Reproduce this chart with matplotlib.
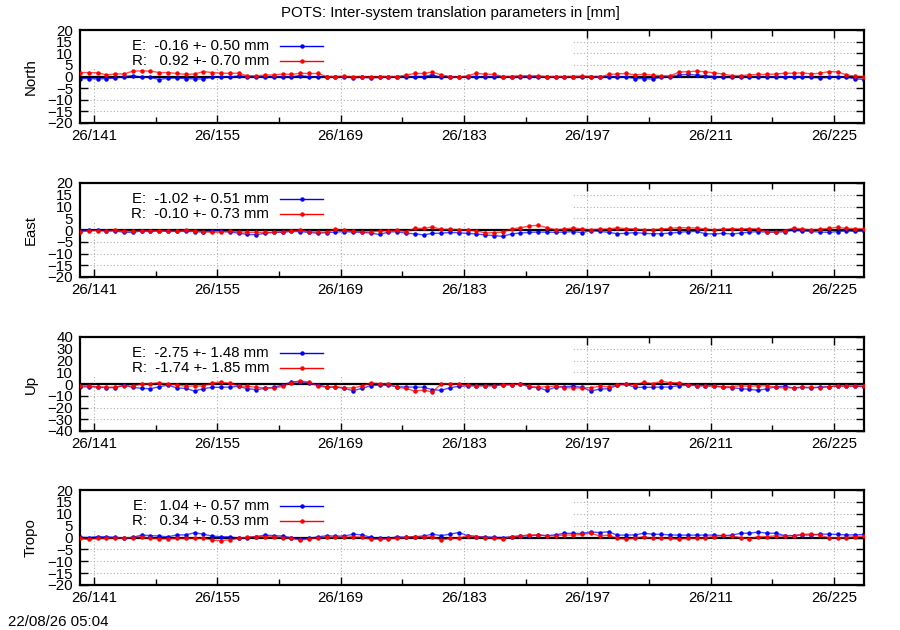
import matplotlib
matplotlib.use("Agg")
import matplotlib.pyplot as plt
import numpy as np
from matplotlib.patches import Rectangle

plt.rcParams['font.family'] = ['Liberation Sans', 'DejaVu Sans']
plt.rcParams['font.size'] = 10.8
FS = 10.8

# day of year of the first solution, one solution per day
first_day = 139.4
major_days = [141, 155, 169, 183, 197, 211, 225]
minor_days = [148, 162, 176, 190, 204, 218]
year = 26

north_e = [-0.9, -0.9, -1.0, -0.9, -0.7, 0.0, 0.4, -0.3, -0.4, -1.3,
           -0.7, -0.7, -0.9, -1.0, -1.1, -0.3, -0.1, -0.3, 0.3, 0.0,
           -0.1, -0.1, -0.1, 0.0, -0.1, 0.4, -0.1, -0.4, -0.3, 0.0,
           -0.1, -0.6, -0.3, -0.6, -0.4, -0.1, -0.1, -0.4, 0.0, 0.0,
           0.7, -0.4, 0.0, -0.3, -0.1, 0.0, -0.3, 0.0, 0.0, 0.0,
           0.0, -0.1, -0.1, -0.1, -0.1, -0.1, 0.0, 0.0, 0.0, 0.0,
           0.0, -0.1, -0.1, -0.9, -0.9, -1.1, -0.3, 0.0, 0.7, 0.9,
           0.6, 0.3, 0.0, -0.4, -0.4, -0.3, -0.3, -0.3, -0.3, -0.1,
           -0.1, -0.1, 0.0, -0.4, -0.6, -0.4, -0.1, -0.4, -0.9, -1.4]
north_r = [1.7, 1.7, 1.6, 0.7, 1.1, 1.1, 2.3, 2.4, 2.3, 1.7,
           1.7, 1.3, 0.9, 1.1, 2.1, 1.7, 1.4, 1.4, 1.4, 0.3,
           0.3, 0.6, 0.7, 1.1, 0.9, 1.4, 1.3, 1.3, 0.0, 0.0,
           0.1, -0.1, 0.0, -0.3, 0.0, 0.0, 0.0, 0.6, 1.3, 1.3,
           1.9, 0.7, 0.0, -0.3, 0.3, 1.4, 1.0, 0.9, -0.1, 0.0,
           0.3, 0.3, 0.3, 0.0, 0.0, 0.0, 0.0, 0.1, 0.0, -0.4,
           0.9, 1.1, 1.3, 0.7, 1.0, 0.6, 0.3, 0.3, 1.9, 2.1,
           2.3, 2.0, 1.6, 1.0, 0.4, 0.4, 0.7, 0.9, 0.9, 1.1,
           1.4, 1.4, 1.6, 1.1, 1.4, 2.1, 2.0, 0.7, 0.1, 0.0]

east_e = [-0.4, -0.1, 0.1, -0.3, -0.4, -1.0, -1.0, -0.4, -0.6, -0.4,
          -0.6, -0.6, -0.6, -0.7, -0.9, -0.4, -0.4, -0.9, -1.3, -1.9,
          -2.0, -1.4, -1.0, -1.0, -0.6, -0.7, -1.0, -1.4, -1.1, -0.9,
          -0.7, -0.9, -1.0, -1.3, -1.9, -0.9, -0.7, -1.4, -1.6, -2.1,
          -1.4, -1.4, -1.0, -1.2, -1.4, -1.7, -2.1, -2.4, -2.7, -1.6,
          -1.3, -1.0, -0.9, -0.9, -1.0, -0.9, -0.7, -1.1, -0.3, -0.6,
          -1.0, -1.6, -1.4, -1.1, -1.4, -1.6, -1.6, -1.3, -1.0, -0.7,
          -0.6, -1.6, -1.7, -1.4, -1.7, -1.3, -0.9, -0.7, -0.9, -1.0,
          -0.7, -0.1, -0.4, -0.6, -0.9, -1.0, -0.7, -0.4, -0.6, -0.4]
east_r = [-0.7, -0.4, -0.3, -0.6, -0.1, -0.4, -0.6, -0.4, -0.3, -0.3,
          -0.4, -0.6, 0.1, -0.4, -0.7, -1.0, -0.9, -0.6, -0.7, -1.0,
          -1.0, -1.0, -1.0, -0.7, -0.3, -0.1, -0.7, -0.9, -0.9, 0.4,
          -0.1, -0.6, -0.7, -0.9, -0.4, -0.4, -0.1, -0.7, 0.7, 0.7,
          1.3, 0.3, 0.3, 0.2, -0.1, -0.3, -1.3, -1.1, -0.9, 0.4,
          1.0, 1.7, 2.0, 1.0, 0.1, 0.4, 0.9, 0.4, 0.1, 0.4,
          0.4, 0.9, 0.6, 0.4, 0.1, 0.1, 0.4, 0.7, 1.0, 0.9,
          0.9, 0.4, 0.1, 0.3, 0.6, 0.4, 0.6, 0.4, -0.7, -0.9,
          -0.3, 0.9, 0.4, 0.1, 0.3, 0.7, 1.1, 0.7, 0.6, 0.6]

up_e = [-2.6, -2.3, -2.6, -3.1, -3.1, -1.1, -2.8, -3.7, -4.0, -2.3,
        -0.9, -3.4, -3.7, -6.0, -4.0, -2.8, -2.8, -2.6, -2.0, -4.0,
        -4.8, -3.7, -2.8, -0.9, 1.7, 1.7, 1.1, -0.6, -2.6, -2.6,
        -3.7, -5.7, -3.7, -1.4, -0.9, -1.1, -2.3, -2.6, -2.6, -2.8,
        -4.8, -5.4, -3.1, -2.0, -1.6, -1.4, -1.4, -1.4, -0.6, -0.6,
        0.3, -2.6, -3.1, -5.4, -2.6, -2.3, -2.0, -2.8, -6.0, -4.3,
        -4.0, -1.1, -0.3, -2.8, -2.8, -2.8, -2.6, -2.6, -1.4, -1.1,
        -1.4, -1.4, -1.7, -2.8, -3.1, -4.0, -4.5, -5.4, -4.0, -2.3,
        -2.0, -3.4, -2.8, -3.4, -2.6, -2.3, -1.7, -1.7, -2.0, -2.3]
up_r = [-1.7, -1.7, -2.3, -2.8, -2.6, -1.4, -2.0, 0.0, 0.3, 1.1,
        -0.3, -0.6, -2.0, -1.7, -1.7, 0.9, 1.7, 0.6, -1.7, -2.0,
        -2.8, -3.4, -3.4, -2.0, 1.1, 2.8, 1.4, -1.7, -2.8, -2.3,
        -3.1, -3.4, -1.7, 0.9, 0.3, 0.3, -2.8, -3.7, -6.0, -5.1,
        -6.8, 0.0, 0.3, -0.3, -1.0, -1.7, -1.4, -1.7, -0.6, -0.6,
        0.0, -2.0, -2.8, -2.3, -1.7, -3.1, -3.4, -3.4, -3.1, -2.0,
        -2.3, -0.6, 0.3, -0.6, 1.4, 0.3, 2.3, 1.1, 1.1, -0.6,
        -1.4, -1.7, -1.7, -2.3, -2.3, -1.4, -2.0, -1.4, -1.7, -2.8,
        -3.4, -3.1, -2.8, -2.8, -3.1, -2.3, -1.7, -2.0, -1.7, -2.0]

tropo_e = [0.1, 0.0, 0.4, 0.3, 0.1, -0.3, 0.1, 1.0, 0.8, 0.6,
           0.3, 1.1, 1.1, 2.0, 1.4, 0.6, 0.3, 0.3, -0.3, 0.0,
           0.4, 1.0, 0.8, 0.6, -0.1, -0.8, -0.4, 0.3, 0.7, 0.6,
           0.6, 1.4, 1.1, 0.1, -0.4, -0.4, 0.3, 0.1, 0.4, 0.6,
           1.4, 0.8, 1.4, 2.1, 0.8, 0.4, 0.3, 0.1, 0.0, 0.3,
           0.6, 0.7, 1.0, 0.8, 1.1, 1.8, 1.7, 1.7, 2.3, 2.1,
           2.4, 1.0, 1.0, 1.1, 1.8, 1.4, 1.3, 1.1, 1.0, 1.0,
           1.0, 1.0, 1.0, 0.7, 1.0, 1.8, 1.8, 2.3, 1.8, 1.8,
           0.8, 0.8, 1.1, 1.0, 1.4, 1.4, 1.3, 1.1, 1.1, 1.3]
tropo_r = [-0.4, -0.8, -0.4, -0.4, -0.1, -0.3, 0.0, 0.3, -0.3, -0.6,
           -0.6, -0.4, -0.4, -0.4, -0.3, -1.1, -1.3, -1.0, -0.4, 0.1,
           0.4, 0.3, 0.3, 0.0, -0.4, -1.1, -0.6, -0.1, 0.1, 0.1,
           0.1, 0.3, 0.1, -0.7, -0.8, -0.6, -0.3, 0.1, 0.4, 0.1,
           0.4, -1.1, -0.4, -0.3, 0.8, 0.4, 0.0, -0.3, -0.6, 0.4,
           0.7, 1.1, 1.1, 0.7, 0.7, 1.1, 1.0, 1.3, 1.8, 0.7,
           1.0, -0.4, -0.7, -0.3, 0.4, -0.4, -0.1, -0.4, -0.8, -0.3,
           -0.4, -0.1, 0.4, 1.0, 0.6, 0.0, -0.6, 0.4, 0.4, 0.7,
           0.6, 0.8, 1.3, 1.5, 1.0, -0.1, -0.1, 0.0, 0.3, 0.6]

# legend statistics (mean, sigma) for E and R
panel_names = ["North", "East", "Up", "Tropo"]
panel_e = [north_e, east_e, up_e, tropo_e]
panel_r = [north_r, east_r, up_r, tropo_r]
stats_e = [(-0.16, 0.50), (-1.02, 0.51), (-2.75, 1.48), (1.04, 0.57)]
stats_r = [(0.92, 0.70), (-0.10, 0.73), (-1.74, 1.85), (0.34, 0.53)]
y_limits = [20, 20, 40, 20]
y_steps = [5, 5, 10, 5]

# panel frames in pixels (top, bottom) of a 900x630 image
W, H = 900, 630
left_px, right_px = 80, 864
frames = [(30, 123), (183, 277), (337, 431), (490, 585)]

fig = plt.figure(figsize=(9, 6.3), dpi=100)
fig.text(0.5, 1 - 13 / H, "POTS: Inter-system translation parameters in [mm]",
         ha="center", va="center", fontsize=FS)
fig.text(8 / W, 1 - 622 / H, "22/08/26 05:04", ha="left", va="center", fontsize=FS)

days = first_day + np.arange(len(north_e))
pw = right_px - left_px

for i, name in enumerate(panel_names):
    top, bot = frames[i]
    ph = bot - top
    ax = fig.add_axes([left_px / W, 1 - bot / H, pw / W, ph / H])
    lim = y_limits[i]
    ax.set_xlim(days[0], days[-1])
    ax.set_ylim(-lim, lim)
    ax.set_yticks(np.arange(-lim, lim + 1, y_steps[i]))
    ax.set_xticks(major_days)
    ax.set_xticklabels([f"{year}/{d}" for d in major_days])
    ax.set_xticks(minor_days, minor=True)
    ax.set_axisbelow(True)
    ax.grid(True, which="major", color="#b0b0b0", linestyle=(0, (1, 2)), linewidth=0.8)
    ax.tick_params(which="both", direction="in", top=True, right=True, width=1)
    ax.tick_params(which="major", length=6, pad=4, labelsize=FS)
    ax.tick_params(which="minor", length=4)
    ax.tick_params(axis="y", pad=5)
    for sp in ax.spines.values():
        sp.set_linewidth(1.6)

    # opaque key box
    box_w = (573 - left_px) / pw
    box_h = 39 / ph
    ax.add_patch(Rectangle((0, 1 - box_h), box_w, box_h, transform=ax.transAxes,
                           facecolor="white", edgecolor="none", zorder=1))

    ax.axhline(0, color="black", linewidth=1.6, zorder=1.5)

    ax.plot(days, panel_e[i], color="#0000ff", linewidth=1.0, alpha=0.7, zorder=2)
    ax.plot(days, panel_e[i], linestyle="none", marker="o", markersize=2.2,
            color="#0000ff", zorder=2.1)
    ax.plot(days, panel_r[i], color="#ff0000", linewidth=1.0, alpha=0.7, zorder=3)
    ax.plot(days, panel_r[i], linestyle="none", marker="o", markersize=2.2,
            color="#ff0000", zorder=3.1)

    # key entries
    for j, (lab, st, col) in enumerate([("E", stats_e[i], "#0000ff"),
                                         ("R", stats_r[i], "#ff0000")]):
        yk = 1 - (16 + 15 * j) / ph
        ax.text((269 - left_px) / pw, yk, f"{lab}: {st[0]:6.2f} +- {st[1]:.2f} mm",
                transform=ax.transAxes, ha="right", va="center", fontsize=FS, zorder=4)
        x0, x1 = (280 - left_px) / pw, (323 - left_px) / pw
        ax.plot([x0, (x0 + x1) / 2, x1], [yk, yk, yk], transform=ax.transAxes,
                color=col, linewidth=1.0, marker="o", markersize=2.2,
                markevery=[1], zorder=4)

    ax.set_ylabel(name, fontsize=FS)
    ax.yaxis.set_label_coords((38 - left_px) / pw, 0.5)

fig.savefig("out.png", dpi=100)
